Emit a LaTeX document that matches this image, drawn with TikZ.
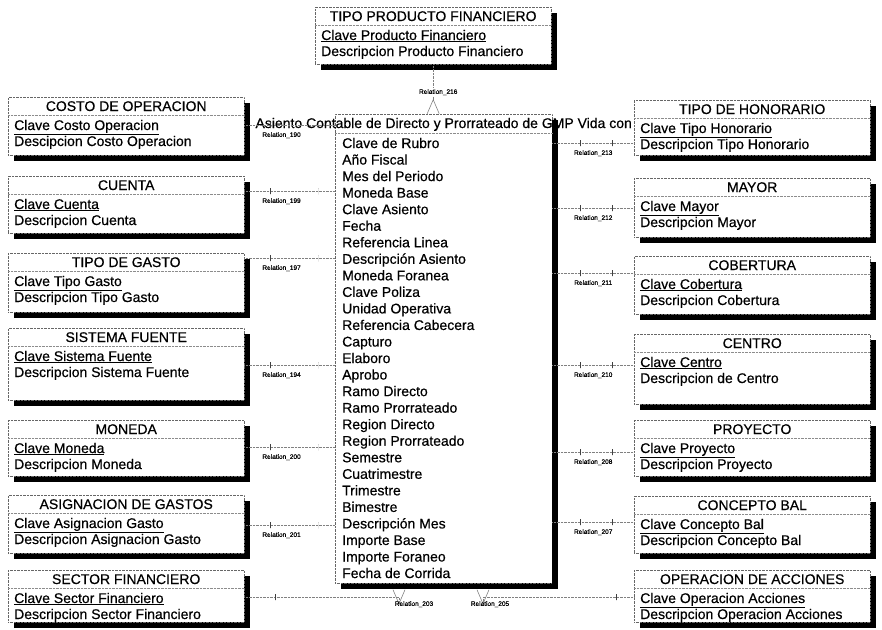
\documentclass[tikz,border=0pt]{standalone}
\usepackage{fontspec}
\setmainfont{Liberation Sans}
\newfontfamily\scanfont{Liberation Sans}[FakeBold=0.5]
\usetikzlibrary{positioning, arrows.meta, calc, shadows}

\begin{document}
\begin{tikzpicture}[x=1pt, y=-1pt, font=\scanfont\fontsize{14}{16}\selectfont,
  entbox/.style={draw=black!60, densely dotted, fill=white, inner sep=0pt,
                 minimum width=236pt, anchor=north west,
                 drop shadow={shadow xshift=6pt, shadow yshift=-6pt, fill=black, opacity=1}},
  sepline/.style={draw=black!45, densely dotted},
  etitle/.style={anchor=base, inner sep=0pt},
  attr/.style={anchor=base west, inner sep=0pt},
  rel/.style={draw=black!50, densely dotted},
  relbar/.style={draw=black!75, solid, inner sep=0pt, minimum width=0pt, minimum height=6pt},
  rlabel/.style={font=\scanfont\fontsize{6.5}{7}\selectfont, inner sep=1pt},
  crow/.style={-{Straight Barb[reversed, length=14pt, width=12pt, line width=.6pt]}}]
  \useasboundingbox (0,0) rectangle (882,629);

  \node[entbox, minimum width=217pt, minimum height=469pt] (asi) at (335,114) {};
  \node[etitle] at ($(asi.north)+(0,14)$) {Asiento Contable de Directo y Prorrateado de GMP Vida con};
  \fill ($(asi.north east)+(0,6)$) rectangle ($(asi.south east)+(6,6)$);
  \draw[sepline] ($(asi.north west)+(0,19)$) -- ($(asi.north east)+(0,19)$);
  \foreach \a [count=\i from 0] in {Clave de Rubro, Año Fiscal, Mes del Periodo, Moneda Base,
      Clave Asiento, Fecha, Referencia Linea, Descripción Asiento, Moneda Foranea, Clave Poliza,
      Unidad Operativa, Referencia Cabecera, Capturo, Elaboro, Aprobo, Ramo Directo,
      Ramo Prorrateado, Region Directo, Region Prorrateado, Semestre, Cuatrimestre, Trimestre,
      Bimestre, Descripción Mes, Importe Base, Importe Foraneo, Fecha de Corrida}
    \node[attr] at ($(asi.north west)+(7,{34+16.54*\i})$) {\a};

  \foreach \n/\x/\y/\h/\t/\k/\d in {
      fin/315/7/57/TIPO PRODUCTO FINANCIERO/Clave Producto Financiero/Descripcion Producto Financiero,
      cos/8/97/58/COSTO DE OPERACION/Clave Costo Operacion/Descipcion Costo Operacion,
      cta/8/176/57/CUENTA/Clave Cuenta/Descripcion Cuenta,
      gas/8/253/59/TIPO DE GASTO/Clave Tipo Gasto/Descripcion Tipo Gasto,
      sis/8/328/72/SISTEMA FUENTE/Clave Sistema Fuente/Descripcion Sistema Fuente,
      mon/8/420/56/MONEDA/Clave Moneda/Descripcion Moneda,
      asg/8/495/58/ASIGNACION DE GASTOS/Clave Asignacion Gasto/Descripcion Asignacion Gasto,
      sec/8/570/52/SECTOR FINANCIERO/Clave Sector Financiero/Descripcion Sector Financiero,
      hon/634/100/55/TIPO DE HONORARIO/Clave Tipo Honorario/Descripcion Tipo Honorario,
      may/634/178/59/MAYOR/Clave Mayor/Descripcion Mayor,
      cob/634/256/58/COBERTURA/Clave Cobertura/Descripcion Cobertura,
      cen/634/334/70/CENTRO/Clave Centro/Descripcion de Centro,
      pro/634/420/56/PROYECTO/Clave Proyecto/Descripcion Proyecto,
      con/634/496/57/CONCEPTO BAL/Clave Concepto Bal/Descripcion Concepto Bal,
      acc/634/570/52/OPERACION DE ACCIONES/Clave Operacion Acciones/Descripcion Operacion Acciones} {
    \node[entbox, minimum height=\h pt] (\n) at (\x,\y) {};
    \node[etitle] at ($(\n.north)+(0,14)$) {\t};
    \draw[sepline] ($(\n.north west)+(0,18)$) -- ($(\n.north east)+(0,18)$);
    \node[attr] at ($(\n.north west)+(6,33)$) {\underline{\k}};
    \node[attr] at ($(\n.north west)+(6,49)$) {\d};
  }

  \foreach \e/\y/\r in {cos/125/190, cta/191/199, gas/258/197, sis/365/194, mon/447/200, asg/525/201}
    \draw[rel] (\e.east |- 0,\y) -- node[relbar, pos=.29] {} node[relbar, pos=.81] {}
      node[rlabel, below=6pt, pos=.41] {Relation\_\r} (asi.west |- 0,\y);
  \foreach \e/\y/\r in {hon/143/213, may/208/212, cob/273/211, cen/365/210, pro/452/208, con/522/207}
    \draw[rel] (asi.east |- 0,\y) -- node[relbar, pos=.34] {} node[relbar, pos=.73] {}
      node[rlabel, below=6pt, pos=.5] {Relation\_\r} (\e.west |- 0,\y);

  \draw[rel, crow] (fin.south) -- node[rlabel, fill=white, pos=.56, xshift=5pt] {Relation\_216}
    (fin.south |- asi.north);
  \draw[rel, crow] (sec.east |- 0,597) -| node[relbar, pos=.1] {}
    node[rlabel, pos=.5, below=3pt, xshift=15pt] {Relation\_203} ($(asi.south west)+(64,6)$);
  \draw[rel, crow] (acc.west |- 0,597) -| node[relbar, pos=.06] {}
    node[rlabel, pos=.5, below=3pt, xshift=7pt] {Relation\_205} ($(asi.south west)+(148,6)$);
\end{tikzpicture}
\end{document}
